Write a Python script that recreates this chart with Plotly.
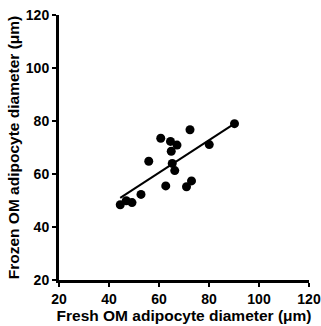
import numpy as np
import plotly.graph_objects as go

fresh = [44.5, 46.9, 49.2, 52.8, 55.9, 60.7, 62.7, 64.6, 67.2, 64.9, 65.3, 66.3, 71.0, 73.0, 72.4, 80.1, 90.2]
frozen = [48.4, 49.9, 49.2, 52.3, 64.8, 73.5, 55.5, 72.3, 70.9, 68.6, 64.0, 61.3, 55.2, 57.4, 76.7, 71.1, 79.0]
tick_vals = [20, 40, 60, 80, 100, 120]
x_title = "Fresh OM adipocyte diameter (μm)"
y_title = "Frozen OM adipocyte diameter (μm)"

slope, intercept = np.polyfit(fresh, frozen, 1)
fit_x = [min(fresh), max(fresh)]
fit_y = [slope * v + intercept for v in fit_x]

font = dict(family="Liberation Sans, Arial, sans-serif", color="black", weight="bold")

fig = go.Figure()
fig.add_trace(go.Scatter(x=fit_x, y=fit_y, mode="lines",
                         line=dict(color="black", width=2), showlegend=False))
fig.add_trace(go.Scatter(x=fresh, y=frozen, mode="markers",
                         marker=dict(color="black", size=9), showlegend=False))

axis_common = dict(
    range=[20, 120], tickvals=tick_vals, ticks="outside", ticklen=4, tickwidth=2,
    tickcolor="black", showline=True, linecolor="black", linewidth=3,
    showgrid=False, zeroline=False, automargin=False,
    tickfont=dict(size=14, **font),
)
fig.update_layout(
    width=321, height=326,
    margin=dict(l=59, r=12, t=15, b=46),
    paper_bgcolor="white", plot_bgcolor="white",
    xaxis=dict(title=dict(text=x_title, font=dict(size=15.5, **font), standoff=3), **axis_common),
    yaxis=dict(title=dict(text=y_title, font=dict(size=15.5, **font), standoff=3), **axis_common),
)
fig.write_html("out.html")
